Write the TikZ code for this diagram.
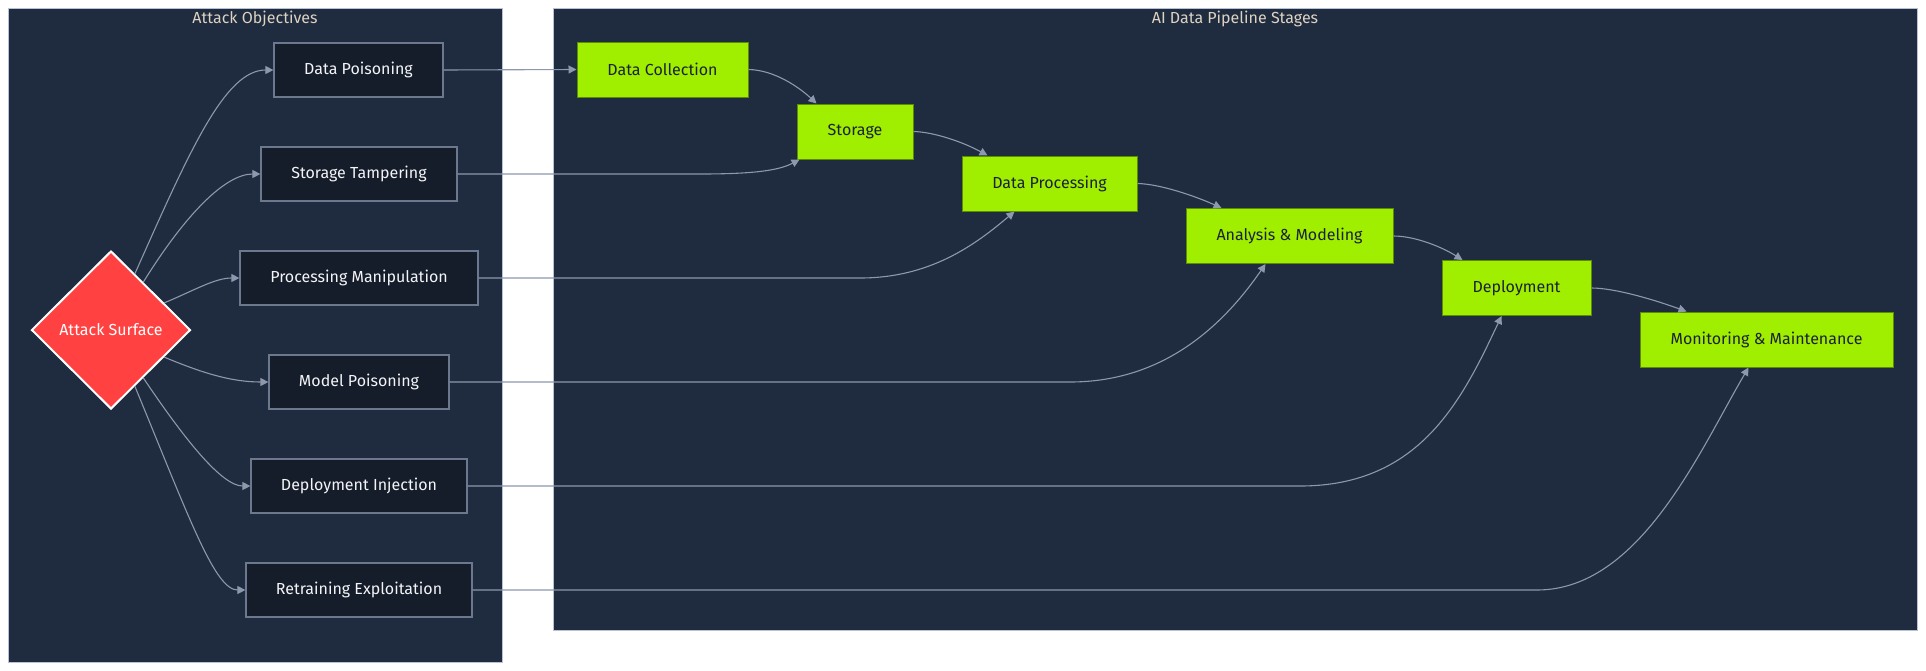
\documentclass[tikz,border=0pt]{standalone}
\usepackage{fontspec}
\setmainfont{Fira Sans}
\usetikzlibrary{shapes.geometric,arrows.meta,calc}
\definecolor{clfill}{HTML}{1F2B3E}
\definecolor{clborder}{HTML}{B8C2D4}
\definecolor{atkfill}{HTML}{151D2B}
\definecolor{atkborder}{HTML}{6B788E}
\definecolor{atktext}{HTML}{F4F4F6}
\definecolor{stagefill}{HTML}{A0EE00}
\definecolor{stageborder}{HTML}{5E8C0A}
\definecolor{stagetext}{HTML}{1B2130}
\definecolor{diafill}{HTML}{FF4141}
\definecolor{edgecol}{HTML}{8D98AE}
\definecolor{titlecol}{HTML}{DDD3C2}
\begin{document}
\begin{tikzpicture}[x=1pt,y=-1pt,
  font=\fontsize{16}{19}\selectfont,
  cluster/.style={draw=clborder, fill=clfill, line width=1pt, inner sep=0pt},
  cltitle/.style={text=titlecol, inner sep=0pt},
  atk/.style={draw=atkborder, fill=atkfill, text=atktext, line width=1.2pt, minimum height=54pt, inner sep=0pt},
  stage/.style={draw=stageborder, fill=stagefill, text=stagetext, line width=1pt, minimum height=55pt, inner sep=0pt},
  surface/.style={diamond, aspect=1, draw=white, line width=2pt, fill=diafill, text=white, minimum width=159pt, minimum height=158pt, inner sep=0pt},
  link/.style={draw=edgecol, line width=1.1pt, -{Triangle[length=8pt,width=8pt]}},
]
\useasboundingbox (0,0) rectangle (1926,670);
\fill[white] (0,0) rectangle (1926,670);

% clusters
\node[cluster, minimum width=494pt, minimum height=654pt] (leftcl) at (255,335) {};
\node[cltitle] (lefttitle) at (255,19) {Attack Objectives};
\node[cluster, minimum width=1364pt, minimum height=622pt] (rightcl) at (1235,319) {};
\node[cltitle] (righttitle) at (1235,19) {AI Data Pipeline Stages};

% attack surface
\node[surface] (as) at (111,330) {Attack Surface};

% attack objectives
\node[atk, minimum width=169pt] (dpa) at (358.5,70) {Data Poisoning};
\node[atk, minimum width=196pt] (sta) at (359,174) {Storage Tampering};
\node[atk, minimum width=238pt] (pma) at (359,278) {Processing Manipulation};
\node[atk, minimum width=180pt] (mpa) at (359,382) {Model Poisoning};
\node[atk, minimum width=216pt] (dia) at (359,486) {Deployment Injection};
\node[atk, minimum width=226pt] (rea) at (359,590) {Retraining Exploitation};

% pipeline stages
\node[stage, minimum width=171pt] (dc) at (662.5,69.5) {Data Collection};
\node[stage, minimum width=116pt] (st) at (855,131.5) {Storage};
\node[stage, minimum width=175pt] (dp) at (1049.5,183.5) {Data Processing};
\node[stage, minimum width=207pt] (am) at (1289.5,236) {Analysis \& Modeling};
\node[stage, minimum width=149pt] (dep) at (1516.5,288) {Deployment};
\node[stage, minimum width=253pt] (mon) at (1766.5,339.5) {Monitoring \& Maintenance};

% attack surface -> objectives
\draw[link] (as.67) .. controls (190,150) and (225,70) .. (dpa.west);
\draw[link] (as.56) .. controls (185,215) and (225,174) .. (sta.west);
\draw[link] (as.27) .. controls (195,290) and (215,278) .. (pma.west);
\draw[link] (as.-27) .. controls (200,372) and (230,382) .. (mpa.west);
\draw[link] (as.-56) .. controls (185,440) and (222,486) .. (dia.west);
\draw[link] (as.-67) .. controls (190,520) and (215,590) .. (rea.west);

% pipeline chain
\draw[link] (dc.east) .. controls (775,70) and (800,88) .. ($(st.north west)+(20,0)$);
\draw[link] (st.east) .. controls (935,132) and (965,143) .. ($(dp.north west)+(26,0)$);
\draw[link] (dp.east) .. controls (1160,184) and (1195,196) .. ($(am.north west)+(36,0)$);
\draw[link] (am.east) .. controls (1415,236) and (1442,247) .. ($(dep.north west)+(21,0)$);
\draw[link] (dep.east) .. controls (1615,288) and (1655,300) .. ($(mon.north west)+(47,0)$);

% objectives -> stages
\draw[link] (dpa.east) -- (dc.west);
\draw[link] (sta.east) -- (700,174) .. controls (750,174) and (778,171) .. ($(st.south west)+(3,0)$);
\draw[link] (pma.east) -- (860,278) .. controls (930,278) and (975,245) .. ($(dp.south west)+(53,0)$);
\draw[link] (mpa.east) -- (1070,382) .. controls (1160,382) and (1220,330) .. ($(am.south west)+(80,0)$);
\draw[link] (dia.east) -- (1300,486) .. controls (1420,486) and (1462,400) .. ($(dep.south west)+(60,0)$);
\draw[link] (rea.east) -- (1537,590) .. controls (1640,590) and (1700,450) .. ($(mon.south west)+(109,0)$);
\end{tikzpicture}
\end{document}
